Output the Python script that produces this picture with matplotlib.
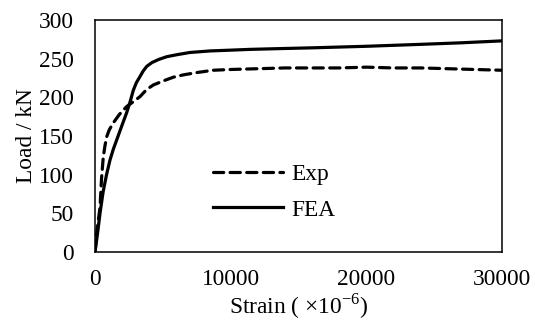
import matplotlib
matplotlib.use('Agg')
import matplotlib.pyplot as plt

plt.rcParams['font.family'] = ['Liberation Serif', 'DejaVu Serif']
plt.rcParams['mathtext.fontset'] = 'custom'
plt.rcParams['mathtext.rm'] = 'Liberation Serif'

# values
exp_strain = [0, 120, 250, 370, 480, 610, 740, 860, 1050, 1350, 1800, 2330, 2800, 3320,
              3800, 4300, 5000, 5770, 6500, 7500, 8700, 10000, 12000, 14000, 16000,
              18000, 20000, 22000, 24000, 26000, 28000, 30000]
exp_load = [0, 24, 42, 58, 95, 123, 138, 149, 158, 167, 178, 188, 194, 201,
            210, 216, 221, 226, 229, 232, 235, 236, 237, 238, 238,
            238, 239, 238, 238, 237, 236, 235]

fea_strain = [0, 200, 368, 600, 850, 1105, 1350, 1600, 1950, 2330, 2600, 2820, 3050, 3320,
              3550, 3810, 4200, 4700, 5280, 6000, 7000, 8500, 10000, 11420, 13630,
              16000, 20000, 24000, 27000, 30000]
fea_load = [0, 26, 50, 78, 100, 119, 133, 145, 162, 180, 195, 209, 219, 227,
            234, 240, 245, 249, 252.5, 255, 258, 260, 261, 262, 263,
            264, 266, 268.5, 270.5, 273]

fs = 16.8

fig = plt.figure(figsize=(5.35, 3.25), dpi=100)
ax = fig.add_axes([0.1776, 0.2246, 0.7607, 0.7139])

ax.plot(exp_strain, exp_load, color='black', lw=2.3, linestyle=(0, (3.2, 2.0)),
        dash_capstyle='round', label='Exp')
ax.plot(fea_strain, fea_load, color='black', lw=2.3, label='FEA')

ax.set_xlim(0, 30000)
ax.set_ylim(0, 300)
ax.set_xticks([0, 10000, 20000, 30000])
ax.set_yticks([0, 50, 100, 150, 200, 250, 300])
ax.tick_params(axis='both', length=0, labelsize=fs)
ax.tick_params(axis='y', pad=15)
ax.tick_params(axis='x', pad=12)
for s in ax.spines.values():
    s.set_linewidth(1.1)

ax.set_xlabel('Strain ( ×10$^{-6}$)', fontsize=fs)
ax.set_ylabel('Load / kN', fontsize=fs)
ax.xaxis.set_label_coords(0.5, -0.17)
ax.yaxis.set_label_coords(-0.142, 0.5)

ax.legend(loc='upper left', bbox_to_anchor=(0.29, 0.38), frameon=False,
          fontsize=fs, handlelength=3.0, handletextpad=0.35, labelspacing=0.6,
          borderpad=0, borderaxespad=0)

fig.savefig('out.png', dpi=100)
